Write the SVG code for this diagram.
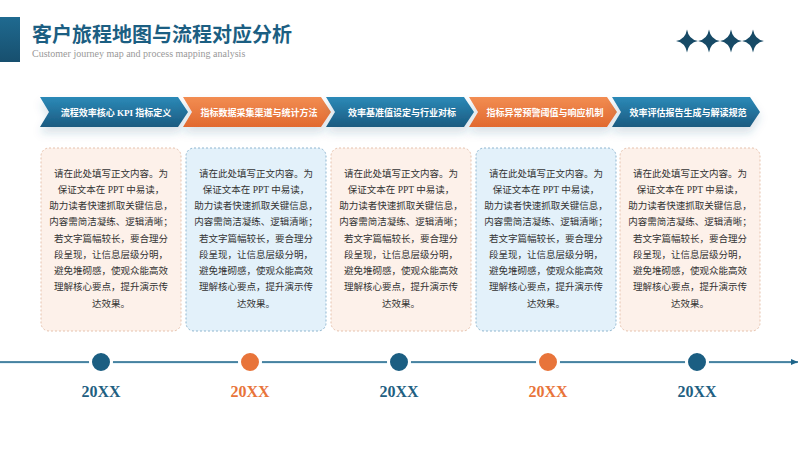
<svg xmlns="http://www.w3.org/2000/svg" width="800" height="450" viewBox="0 0 800 450">
<defs>
<linearGradient id="gb" x1="0" y1="0" x2="0" y2="1"><stop offset="0" stop-color="#2c8ab8"/><stop offset="1" stop-color="#1a5a80"/></linearGradient>
<linearGradient id="go" x1="0" y1="0" x2="0" y2="1"><stop offset="0" stop-color="#f28d52"/><stop offset="1" stop-color="#e1692f"/></linearGradient>
<linearGradient id="gbar" x1="0" y1="0" x2="0" y2="1"><stop offset="0" stop-color="#1f6a90"/><stop offset="1" stop-color="#174f6e"/></linearGradient>
<filter id="sh" x="-10%" y="-20%" width="120%" height="180%"><feDropShadow dx="0" dy="6" stdDeviation="4" flood-color="#1a5a80" flood-opacity="0.18"/></filter>
<path id="chev" d="M0,0 H138 L148,15 L138,30 H0 L9,15 Z"/>
<path id="star" d="M0,-11.5 Q1.6,-1.6 11,0 Q1.6,1.6 0,11.5 Q-1.6,1.6 -11,0 Q-1.6,-1.6 0,-11.5 Z"/>
<marker id="arr" markerWidth="8" markerHeight="8" refX="7" refY="4" orient="auto" markerUnits="userSpaceOnUse"><path d="M0,1 L7,4 L0,7 Z" fill="#1d6489"/></marker>
</defs>
<style>
.ct{font-family:"Liberation Serif","Noto Sans CJK SC",serif;font-size:9px;font-weight:bold;fill:#fff;text-anchor:middle}
.bt{font-family:"Liberation Serif","Noto Sans CJK SC",serif;font-size:9.5px;fill:#333;text-anchor:middle}
.bo{fill:#fdf1ea;stroke:#e6c2ad;stroke-width:1;stroke-dasharray:2 2}
.bb{fill:#e3f1fa;stroke:#8fb6d0;stroke-width:1;stroke-dasharray:2 2}
.yr{font-family:"Liberation Serif","Noto Sans CJK SC",serif;font-size:16px;font-weight:bold;text-anchor:middle}
</style>
<rect width="800" height="450" fill="#fff"/>
<g id="header">
<rect x="0" y="17" width="20" height="45" fill="url(#gbar)"/>
<text x="32" y="42" font-family="Noto Sans CJK SC, sans-serif" font-size="20" font-weight="bold" fill="#1b5e82">客户旅程地图与流程对应分析</text>
<text x="32" y="57" font-family="Liberation Serif, serif" font-size="10" fill="#999">Customer journey map and process mapping analysis</text>
<g fill="#174a66">
<use href="#star" x="687" y="41"/><use href="#star" x="709" y="41"/><use href="#star" x="731" y="41"/><use href="#star" x="753" y="41"/>
</g>
</g>
<g id="step1">
<use href="#chev" x="40" y="97" fill="url(#gb)" filter="url(#sh)"/>
<text class="ct" x="116" y="115.5">流程效率核心 KPI 指标定义</text>
</g>
<g id="step2">
<use href="#chev" x="183" y="97" fill="url(#go)" filter="url(#sh)"/>
<text class="ct" x="259" y="115.5">指标数据采集渠道与统计方法</text>
</g>
<g id="step3">
<use href="#chev" x="326" y="97" fill="url(#gb)" filter="url(#sh)"/>
<text class="ct" x="402" y="115.5">效率基准值设定与行业对标</text>
</g>
<g id="step4">
<use href="#chev" x="469" y="97" fill="url(#go)" filter="url(#sh)"/>
<text class="ct" x="545" y="115.5">指标异常预警阈值与响应机制</text>
</g>
<g id="step5">
<use href="#chev" x="612" y="97" fill="url(#gb)" filter="url(#sh)"/>
<text class="ct" x="688" y="115.5">效率评估报告生成与解读规范</text>
</g>
<g id="box1">
<rect class="bo" x="41" y="148" width="140" height="183" rx="8"/>
<text class="bt"><tspan x="111" y="176.5">请在此处填写正文内容。为</tspan><tspan x="111" y="192.8">保证文本在 PPT 中易读，</tspan><tspan x="111" y="209">助力读者快速抓取关键信息，</tspan><tspan x="111" y="225.3">内容需简洁凝练、逻辑清晰；</tspan><tspan x="111" y="241.5">若文字篇幅较长，要合理分</tspan><tspan x="111" y="257.8">段呈现，让信息层级分明，</tspan><tspan x="111" y="274">避免堆砌感，使观众能高效</tspan><tspan x="111" y="290.3">理解核心要点，提升演示传</tspan><tspan x="111" y="306.5">达效果。</tspan></text>
</g>
<g id="box2">
<rect class="bb" x="186" y="148" width="140" height="183" rx="8"/>
<text class="bt"><tspan x="256" y="176.5">请在此处填写正文内容。为</tspan><tspan x="256" y="192.8">保证文本在 PPT 中易读，</tspan><tspan x="256" y="209">助力读者快速抓取关键信息，</tspan><tspan x="256" y="225.3">内容需简洁凝练、逻辑清晰；</tspan><tspan x="256" y="241.5">若文字篇幅较长，要合理分</tspan><tspan x="256" y="257.8">段呈现，让信息层级分明，</tspan><tspan x="256" y="274">避免堆砌感，使观众能高效</tspan><tspan x="256" y="290.3">理解核心要点，提升演示传</tspan><tspan x="256" y="306.5">达效果。</tspan></text>
</g>
<g id="box3">
<rect class="bo" x="331" y="148" width="140" height="183" rx="8"/>
<text class="bt"><tspan x="401" y="176.5">请在此处填写正文内容。为</tspan><tspan x="401" y="192.8">保证文本在 PPT 中易读，</tspan><tspan x="401" y="209">助力读者快速抓取关键信息，</tspan><tspan x="401" y="225.3">内容需简洁凝练、逻辑清晰；</tspan><tspan x="401" y="241.5">若文字篇幅较长，要合理分</tspan><tspan x="401" y="257.8">段呈现，让信息层级分明，</tspan><tspan x="401" y="274">避免堆砌感，使观众能高效</tspan><tspan x="401" y="290.3">理解核心要点，提升演示传</tspan><tspan x="401" y="306.5">达效果。</tspan></text>
</g>
<g id="box4">
<rect class="bb" x="476" y="148" width="140" height="183" rx="8"/>
<text class="bt"><tspan x="546" y="176.5">请在此处填写正文内容。为</tspan><tspan x="546" y="192.8">保证文本在 PPT 中易读，</tspan><tspan x="546" y="209">助力读者快速抓取关键信息，</tspan><tspan x="546" y="225.3">内容需简洁凝练、逻辑清晰；</tspan><tspan x="546" y="241.5">若文字篇幅较长，要合理分</tspan><tspan x="546" y="257.8">段呈现，让信息层级分明，</tspan><tspan x="546" y="274">避免堆砌感，使观众能高效</tspan><tspan x="546" y="290.3">理解核心要点，提升演示传</tspan><tspan x="546" y="306.5">达效果。</tspan></text>
</g>
<g id="box5">
<rect class="bo" x="620" y="148" width="140" height="183" rx="8"/>
<text class="bt"><tspan x="690" y="176.5">请在此处填写正文内容。为</tspan><tspan x="690" y="192.8">保证文本在 PPT 中易读，</tspan><tspan x="690" y="209">助力读者快速抓取关键信息，</tspan><tspan x="690" y="225.3">内容需简洁凝练、逻辑清晰；</tspan><tspan x="690" y="241.5">若文字篇幅较长，要合理分</tspan><tspan x="690" y="257.8">段呈现，让信息层级分明，</tspan><tspan x="690" y="274">避免堆砌感，使观众能高效</tspan><tspan x="690" y="290.3">理解核心要点，提升演示传</tspan><tspan x="690" y="306.5">达效果。</tspan></text>
</g>
<g id="connectors">
<line x1="0" y1="362.8" x2="797" y2="362.8" stroke="#a9d3ea" stroke-width="1"/>
<line x1="0" y1="362" x2="798" y2="362" stroke="#1d6489" stroke-width="1.4" marker-end="url(#arr)"/>
</g>
<g id="t1"><circle cx="101" cy="362" r="10.5" fill="#1b5e82" stroke="#fff" stroke-width="3"/><text class="yr" x="101" y="397" fill="#1f5f82">20XX</text></g>
<g id="t2"><circle cx="250" cy="362" r="10.5" fill="#e8743a" stroke="#fff" stroke-width="3"/><text class="yr" x="250" y="397" fill="#e8743a">20XX</text></g>
<g id="t3"><circle cx="399" cy="362" r="10.5" fill="#1b5e82" stroke="#fff" stroke-width="3"/><text class="yr" x="399" y="397" fill="#1f5f82">20XX</text></g>
<g id="t4"><circle cx="548" cy="362" r="10.5" fill="#e8743a" stroke="#fff" stroke-width="3"/><text class="yr" x="548" y="397" fill="#e8743a">20XX</text></g>
<g id="t5"><circle cx="697" cy="362" r="10.5" fill="#1b5e82" stroke="#fff" stroke-width="3"/><text class="yr" x="697" y="397" fill="#1f5f82">20XX</text></g>
</svg>
